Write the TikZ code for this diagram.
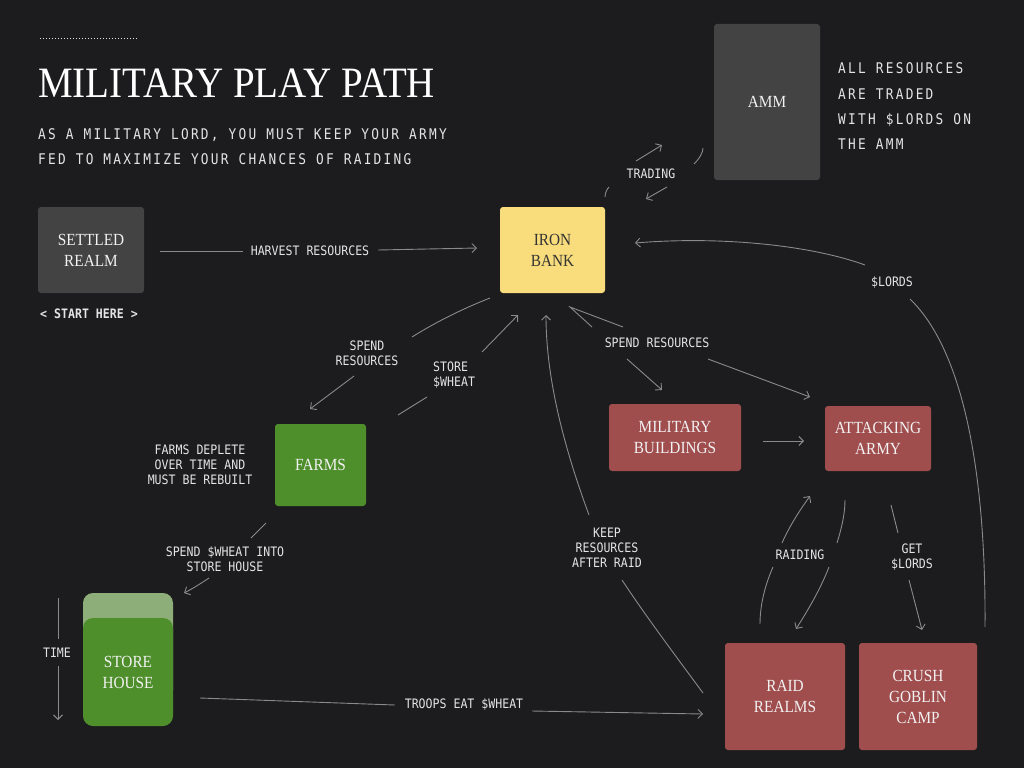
\documentclass[tikz,border=0pt]{standalone}
\usepackage{fontspec}
\usetikzlibrary{arrows.meta}
\newfontfamily\serifx[FakeStretch=0.9]{Liberation Serif}
\newfontfamily\monox[FakeStretch=0.89]{DejaVu Sans Mono}
\newfontfamily\monotr[FakeStretch=0.87,LetterSpace=15.5]{DejaVu Sans Mono}
\definecolor{bg}{HTML}{1C1C1E}
\definecolor{boxgray}{HTML}{434343}
\definecolor{bankyel}{HTML}{F9DD7C}
\definecolor{banktext}{HTML}{333333}
\definecolor{farmgreen}{HTML}{4E8F2C}
\definecolor{lightgreen}{HTML}{8DAE78}
\definecolor{armyred}{HTML}{A04D4E}
\definecolor{linec}{HTML}{8A8A8A}
\definecolor{lbltext}{HTML}{E4E4E4}
\definecolor{boxtext}{HTML}{F2F2F2}
\begin{document}
\begin{tikzpicture}[x=1pt,y=-1pt,
  box/.style={rounded corners=3pt, inner sep=0pt, align=center, text=boxtext,
    font=\serifx\fontsize{17}{21}\selectfont},
  lbl/.style={font=\monox\fontsize{13}{15}\selectfont, text=lbltext, align=center, inner sep=0pt},
  desc/.style={font=\monotr\fontsize{14.7}{25}\selectfont, text=lbltext, anchor=base west, inner sep=0pt},
  con/.style={draw=linec, line width=0.9pt},
  arr/.style={con, -{Straight Barb[length=4.5pt,width=9pt]}}]
\fill[bg] (0,0) rectangle (1024,768);
\useasboundingbox (0,0) rectangle (1024,768);

% header
\draw[lbltext, line width=0.7pt, dash pattern=on 1.2pt off 1.8pt] (40,38) -- (138,38);
\node[anchor=base west, inner sep=0pt, text=white, font=\serifx\fontsize{43.3}{43}\selectfont] (title) at (38,97) {MILITARY PLAY PATH};
\node[desc] (sub1) at (38,139) {AS A MILITARY LORD, YOU MUST KEEP YOUR ARMY};
\node[desc] (sub2) at (38,164) {FED TO MAXIMIZE YOUR CHANCES OF RAIDING};

% AMM description
\node[desc] (ad1) at (838,74) {ALL RESOURCES};
\node[desc] (ad2) at (838,99) {ARE TRADED};
\node[desc] (ad3) at (838,124) {WITH \$LORDS ON};
\node[desc] (ad4) at (838,149) {THE AMM};

% boxes
\node[box, fill=boxgray, minimum width=106pt, minimum height=86pt] (sr) at (91,250) {SETTLED\\REALM};
\node[box, fill=bankyel, text=banktext, minimum width=105pt, minimum height=86pt] (ib) at (552.5,250) {IRON\\BANK};
\node[box, fill=boxgray, minimum width=106pt, minimum height=156pt] (amm) at (767,102) {AMM};
\node[box, fill=farmgreen, minimum width=91pt, minimum height=82pt] (farms) at (320.5,465) {FARMS};
\node[box, fill=armyred, minimum width=132pt, minimum height=67pt] (mb) at (675,437.5) {MILITARY\\BUILDINGS};
\node[box, fill=armyred, minimum width=106pt, minimum height=65pt] (aa) at (878,438.5) {ATTACKING\\ARMY};
\node[box, fill=armyred, minimum width=120pt, minimum height=107pt] (rr) at (785,696.5) {RAID\\REALMS};
\node[box, fill=armyred, minimum width=118pt, minimum height=107pt] (cg) at (918,696.5) {CRUSH\\GOBLIN\\CAMP};
\node[box, rounded corners=10pt, fill=lightgreen, minimum width=90pt, minimum height=107pt] (shback) at (128,646.5) {};
\node[box, rounded corners=10pt, fill=farmgreen, minimum width=90pt, minimum height=108pt] (sh) at (128,672) {STORE\\HOUSE};

% labels
\node[lbl, font=\monox\bfseries\fontsize{13}{15}\selectfont] (start) at (89,314) {< START HERE >};
\node[lbl] (lhr) at (310,251) {HARVEST RESOURCES};
\node[lbl] (ltr) at (651,174) {TRADING};
\node[lbl] (llo) at (892,283) {\$LORDS};
\node[lbl] (lsf) at (367,353) {SPEND\\RESOURCES};
\node[lbl, align=left, anchor=west] (lsw) at (433,375) {STORE\\\$WHEAT};
\node[lbl] (lsm) at (657,343) {SPEND RESOURCES};
\node[lbl] (lkr) at (607,548) {KEEP\\RESOURCES\\AFTER RAID};
\node[lbl] (lrd) at (800,555) {RAIDING};
\node[lbl] (lgl) at (912,557) {GET\\\$LORDS};
\node[lbl] (lfd) at (200,465) {FARMS DEPLETE\\OVER TIME AND\\MUST BE REBUILT};
\node[lbl] (lsh) at (225,559) {SPEND \$WHEAT INTO\\STORE HOUSE};
\node[lbl] (lte) at (464,705) {TROOPS EAT \$WHEAT};
\node[lbl] (ltm) at (57,653) {TIME};

% connector end points
\coordinate (h1) at (160,251); \coordinate (h2) at (243,251);
\coordinate (h3) at (378,250); \coordinate (h4) at (477,248);
\coordinate (t1) at (605,197); \coordinate (t2) at (609,187);
\coordinate (t3) at (636,161); \coordinate (t4) at (662,145);
\coordinate (t5) at (694,164); \coordinate (t6) at (703,148);
\coordinate (t7) at (667,187); \coordinate (t8) at (646,199);
\coordinate (l1) at (985,627); \coordinate (l2) at (910,299);
\coordinate (l3) at (865,265); \coordinate (l4) at (635,243);
\coordinate (s1) at (490,298); \coordinate (s2) at (412,337);
\coordinate (s3) at (354,376); \coordinate (s4) at (310,409);
\coordinate (w1) at (398,415); \coordinate (w2) at (427,397);
\coordinate (w3) at (482,352); \coordinate (w4) at (518,315);
\coordinate (k1) at (703,693); \coordinate (k2) at (622,580);
\coordinate (k3) at (589,515); \coordinate (k4) at (546,315);
\coordinate (m0) at (570,307); \coordinate (m1) at (592,327); \coordinate (m2) at (623,327);
\coordinate (m3) at (627,359); \coordinate (m4) at (662,390);
\coordinate (m5) at (708,359); \coordinate (m6) at (810,397);
\coordinate (b1) at (763,441); \coordinate (b2) at (804,441);
\coordinate (r1) at (760,624); \coordinate (r2) at (773,567);
\coordinate (r3) at (782,543); \coordinate (r4) at (810,496);
\coordinate (r5) at (845,500); \coordinate (r6) at (837,543);
\coordinate (r7) at (829,567); \coordinate (r8) at (796,629);
\coordinate (g1) at (891,505); \coordinate (g2) at (898,533);
\coordinate (g3) at (909,580); \coordinate (g4) at (922,630);
\coordinate (e1) at (200,698); \coordinate (e2) at (395,705);
\coordinate (e3) at (532,711); \coordinate (e4) at (703,714);
\coordinate (c1) at (58,598); \coordinate (c2) at (58,639);
\coordinate (c3) at (58,666); \coordinate (c4) at (58,720);
\coordinate (p1) at (266,523); \coordinate (p2) at (251,538);
\coordinate (p3) at (209,578); \coordinate (p4) at (184,593);

% connectors
\draw[con] (h1) -- (h2);
\draw[arr] (h3) -- (h4);
\draw[con] (t1) .. controls (605,193) and (607,189) .. (t2);
\draw[arr] (t3) -- (t4);
\draw[con] (t5) .. controls (700,158) and (703,152) .. (t6);
\draw[arr] (t7) -- (t8);
\draw[con] (l1) .. controls (986,490) and (968,355) .. (l2);
\draw[arr] (l3) .. controls (810,245) and (720,236) .. (l4);
\draw[con] (s1) .. controls (462,309) and (436,322) .. (s2);
\draw[arr] (s3) -- (s4);
\draw[con] (w1) -- (w2);
\draw[arr] (w3) -- (w4);
\draw[con] (k1) .. controls (675,655) and (645,615) .. (k2);
\draw[arr] (k3) .. controls (565,450) and (546,380) .. (k4);
\draw[con] (m1) -- (m0) -- (m2);
\draw[arr] (m3) -- (m4);
\draw[arr] (m5) -- (m6);
\draw[arr] (b1) -- (b2);
\draw[con] (r1) .. controls (760,605) and (765,585) .. (r2);
\draw[arr] (r3) .. controls (790,525) and (800,510) .. (r4);
\draw[con] (r5) .. controls (845,515) and (841,530) .. (r6);
\draw[arr] (r7) .. controls (820,590) and (808,610) .. (r8);
\draw[con] (g1) -- (g2);
\draw[arr] (g3) -- (g4);
\draw[con] (e1) -- (e2);
\draw[arr] (e3) -- (e4);
\draw[con] (c1) -- (c2);
\draw[arr] (c3) -- (c4);
\draw[con] (p1) -- (p2);
\draw[arr] (p3) .. controls (200,584) and (192,589) .. (p4);
\end{tikzpicture}
\end{document}
